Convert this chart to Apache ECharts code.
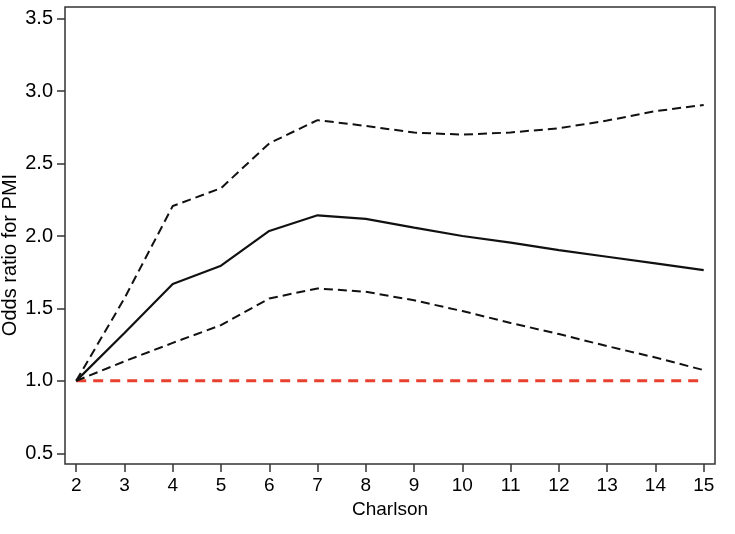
<!DOCTYPE html>
<html>
<head>
<meta charset="utf-8">
<script src="https://cdn.jsdelivr.net/npm/echarts@6/dist/echarts.min.js"></script>
<style>
html,body{margin:0;padding:0;background:#fff;}
#chart{width:735px;height:534px;}
</style>
</head>
<body>
<div id="chart"></div>
<script>
var charlson = [2, 3, 4, 5, 6, 7, 8, 9, 10, 11, 12, 13, 14, 15];
var oddsRatio = [1.0, 1.33, 1.668, 1.795, 2.035, 2.143, 2.118, 2.058, 2.0, 1.954, 1.903, 1.857, 1.811, 1.765];
var ciUpper = [1.0, 1.57, 2.207, 2.33, 2.64, 2.80, 2.76, 2.714, 2.70, 2.715, 2.744, 2.797, 2.862, 2.905];
var ciLower = [1.0, 1.135, 1.262, 1.385, 1.569, 1.638, 1.615, 1.556, 1.482, 1.40, 1.323, 1.24, 1.161, 1.074];
var referenceValue = 1.0;
var yTicks = [0.5, 1.0, 1.5, 2.0, 2.5, 3.0, 3.5];
var xTicks = [2, 3, 4, 5, 6, 7, 8, 9, 10, 11, 12, 13, 14, 15];
var yTitle = 'Odds ratio for PMI';
var xTitle = 'Charlson';

function pairs(xs, ys) { return xs.map(function (x, i) { return [x, ys[i]]; }); }

var font = "'Liberation Sans', Arial, Helvetica, sans-serif";
var chart = echarts.init(document.getElementById('chart'), null, {renderer: 'canvas'});
chart.setOption({
  animation: false,
  backgroundColor: '#fff',
  grid: {left: 65, right: 20, top: 7, bottom: 70, show: true, borderColor: '#333', borderWidth: 1.5,
    backgroundColor: 'transparent', containLabel: false, outerBoundsMode: 'none'},
  graphic: [{
    type: 'text', x: 10, y: 255, rotation: Math.PI / 2,
    style: {text: yTitle, fontFamily: font, fontSize: 20, fill: '#000', align: 'center', verticalAlign: 'middle'}
  }],
  xAxis: {
    type: 'value', min: 1.768, max: 15.234,
    name: xTitle, nameLocation: 'middle', nameGap: 33,
    nameTextStyle: {fontFamily: font, fontSize: 19, color: '#000'},
    axisLine: {show: false},
    splitLine: {show: false},
    axisTick: {show: true, length: 8, inside: false, customValues: xTicks, lineStyle: {color: '#333', width: 1.5}},
    axisLabel: {customValues: xTicks, margin: 12, fontFamily: font, fontSize: 19, color: '#000'}
  },
  yAxis: {
    type: 'value', min: 0.426, max: 3.581,
    axisLine: {show: false},
    splitLine: {show: false},
    axisTick: {show: true, length: 8, inside: false, customValues: yTicks, lineStyle: {color: '#333', width: 1.5}},
    axisLabel: {customValues: yTicks, margin: 12, fontFamily: font, fontSize: 20, color: '#000',
      formatter: function (v) { return v.toFixed(1); }}
  },
  series: [
    {type: 'line', name: 'Reference', data: pairs(charlson, charlson.map(function () { return referenceValue; })),
      symbol: 'none', lineStyle: {color: '#e8402f', width: 3, type: [10, 7]}, z: 1},
    {type: 'line', name: 'Upper CI', data: pairs(charlson, ciUpper), symbol: 'none',
      lineStyle: {color: '#111', width: 2, type: [9, 5]}, z: 2},
    {type: 'line', name: 'Lower CI', data: pairs(charlson, ciLower), symbol: 'none',
      lineStyle: {color: '#111', width: 2, type: [9, 5]}, z: 2},
    {type: 'line', name: 'Odds ratio', data: pairs(charlson, oddsRatio), symbol: 'none',
      lineStyle: {color: '#111', width: 2.2}, z: 3}
  ]
});
</script>
</body>
</html>
